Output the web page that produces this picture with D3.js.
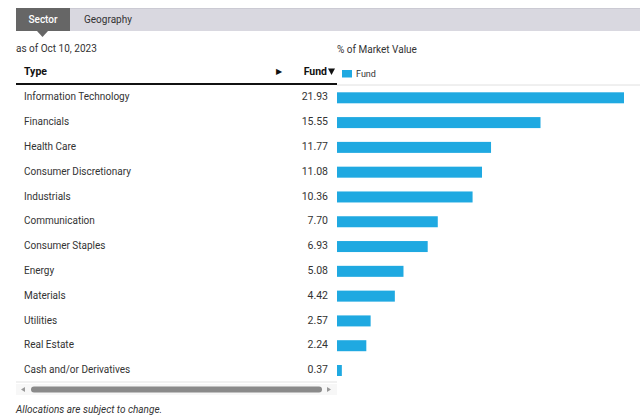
<!DOCTYPE html>
<html>
<head>
<meta charset="utf-8">
<script src="https://cdn.jsdelivr.net/npm/d3@7"></script>
<style>
  body { margin: 0; background: #fff; }
  svg { display: block; font-family: Roboto, "Noto Sans", sans-serif; }
</style>
</head>
<body>
<svg id="chart" width="640" height="419"></svg>
<script>
const sectors = [
  "Information Technology", "Financials", "Health Care", "Consumer Discretionary",
  "Industrials", "Communication", "Consumer Staples", "Energy",
  "Materials", "Utilities", "Real Estate", "Cash and/or Derivatives"
];
const fundValues = [21.93, 15.55, 11.77, 11.08, 10.36, 7.70, 6.93, 5.08, 4.42, 2.57, 2.24, 0.37];
const tabs = ["Sector", "Geography"];
const asOf = "as of Oct 10, 2023";

const svg = d3.select("#chart");
const width = 640;
const barColor = "#1fa9e1";
const textColor = "#333";

// tabs
svg.append("rect").attr("x", 16).attr("y", 8).attr("width", width - 16).attr("height", 23)
  .attr("fill", "#d9d8e0");
svg.append("line").attr("x1", 16).attr("x2", width).attr("y1", 8.5).attr("y2", 8.5)
  .attr("stroke", "#cbcad3");
svg.append("rect").attr("x", 16).attr("y", 8).attr("width", 54).attr("height", 23)
  .attr("fill", "#666");
svg.append("path").attr("d", "M37,31 L48,31 L42.5,37 Z").attr("fill", "#666");
svg.append("text").attr("x", 43).attr("y", 23).attr("text-anchor", "middle")
  .attr("fill", "#fff").style("font-size", "10px").style("font-weight", 500).text(tabs[0]);
svg.append("text").attr("x", 84).attr("y", 23)
  .attr("fill", textColor).style("font-size", "10px").text(tabs[1]);

svg.append("text").attr("x", 16).attr("y", 52)
  .attr("fill", textColor).style("font-size", "10px").text(asOf);
svg.append("text").attr("x", 337).attr("y", 53)
  .attr("fill", textColor).style("font-size", "10px").text("% of Market Value");

// header
svg.append("text").attr("x", 24).attr("y", 75).attr("fill", "#111")
  .style("font-size", "10.5px").style("font-weight", 700).text("Type");
svg.append("text").attr("x", 276).attr("y", 74).attr("fill", "#111")
  .style("font-size", "8px").text("▶");
svg.append("text").attr("x", 327).attr("y", 75).attr("text-anchor", "end").attr("fill", "#111")
  .style("font-size", "10.5px").style("font-weight", 700).text("Fund");
svg.append("path").attr("d", "M328,68.5 L335,68.5 L331.5,75 Z").attr("fill", "#111");
svg.append("line").attr("x1", 16).attr("x2", 337).attr("y1", 84).attr("y2", 84)
  .attr("stroke", "#111").attr("stroke-width", 2);
svg.append("line").attr("x1", 337).attr("x2", width).attr("y1", 85).attr("y2", 85)
  .attr("stroke", "#e0e0e0").attr("stroke-width", 1);

// legend
svg.append("rect").attr("x", 342).attr("y", 70).attr("width", 10).attr("height", 7.5)
  .attr("fill", barColor);
svg.append("text").attr("x", 356).attr("y", 77).attr("fill", textColor)
  .style("font-size", "9px").text("Fund");

// rows
const y = d3.scalePoint().domain(sectors).range([97.8, 370.5]);
const x = d3.scaleLinear().domain([0, d3.max(fundValues)]).range([337, 624]);
const barH = 11;

const rows = svg.append("g").selectAll("g").data(sectors).join("g");
rows.append("text").attr("x", 24).attr("y", d => y(d) + 2.6).attr("fill", textColor)
  .style("font-size", "10px").text(d => d);
rows.append("text").attr("x", 328).attr("y", d => y(d) + 2.6).attr("text-anchor", "end")
  .attr("fill", textColor).style("font-size", "10.5px")
  .text((d, i) => fundValues[i].toFixed(2));
rows.append("rect").attr("x", x(0)).attr("y", d => y(d) - barH / 2)
  .attr("width", (d, i) => x(fundValues[i]) - x(0)).attr("height", barH)
  .attr("fill", barColor);

// bottom rule and scrollbar
svg.append("line").attr("x1", 16).attr("x2", 337).attr("y1", 382).attr("y2", 382)
  .attr("stroke", "#e3e3e3");
svg.append("rect").attr("x", 16).attr("y", 384).attr("width", 321).attr("height", 11)
  .attr("fill", "#f7f7f7");
svg.append("rect").attr("x", 31).attr("y", 386.5).attr("width", 291).attr("height", 6)
  .attr("rx", 3).attr("fill", "#8a8a8a");
svg.append("path").attr("d", "M21,389.5 L25,387 L25,392 Z").attr("fill", "#999");
svg.append("path").attr("d", "M331,389.5 L327,387 L327,392 Z").attr("fill", "#999");

svg.append("text").attr("x", 16).attr("y", 413).attr("fill", textColor)
  .style("font-size", "10px").style("font-style", "italic")
  .text("Allocations are subject to change.");
</script>
</body>
</html>
